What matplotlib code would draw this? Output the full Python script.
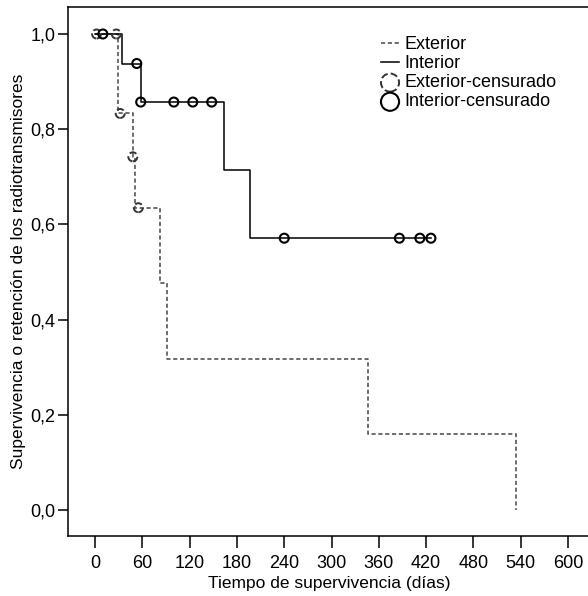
import matplotlib
matplotlib.use("Agg")
import matplotlib.pyplot as plt

plt.rcParams['font.family'] = ['Liberation Sans', 'DejaVu Sans']

# Kaplan-Meier steps (days, survival)
ext_t = [0, 29, 48, 51, 82, 91, 346, 534]
ext_s = [1.0, 0.833, 0.742, 0.635, 0.476, 0.317, 0.159, 0.0]
int_t = [0, 34, 58, 164, 197, 426]
int_s = [1.0, 0.938, 0.857, 0.714, 0.571, 0.571]

# censored observations
ext_cens_t = [2, 27, 32, 48, 55]
ext_cens_s = [1.0, 1.0, 0.833, 0.742, 0.635]
int_cens_t = [10, 53, 58, 100, 124, 148, 240, 386, 412, 426]
int_cens_s = [1.0, 0.938, 0.857, 0.857, 0.857, 0.857, 0.571, 0.571, 0.571, 0.571]

x_ticks = [0, 60, 120, 180, 240, 300, 360, 420, 480, 540, 600]
y_ticks = [0.0, 0.2, 0.4, 0.6, 0.8, 1.0]
y_labels = ['0,0', '0,2', '0,4', '0,6', '0,8', '1,0']

fig = plt.figure(figsize=(5.88, 5.96), dpi=100)
ax = fig.add_axes([68/588, 60/596, 523/588, 529/596])

ext_col = '#555555'
ax.step(ext_t, ext_s, where='post', color=ext_col, lw=1.2, linestyle=(0, (2.5, 1.6)))
ax.step(int_t, int_s, where='post', color='black', lw=1.1)

ax.scatter(ext_cens_t, ext_cens_s, s=42, facecolors='none', edgecolors='#333333',
           linewidths=1.4, linestyles='--', zorder=3)
ax.scatter(int_cens_t, int_cens_s, s=42, facecolors='none', edgecolors='black',
           linewidths=1.5, zorder=4)

# legend proxies (style only)
h1, = ax.plot([], [], color=ext_col, lw=1.2, linestyle=(0, (2.5, 1.6)), label='Exterior')
h2, = ax.plot([], [], color='black', lw=1.1, label='Interior')
h3 = ax.scatter([], [], s=170, facecolors='none', edgecolors='#333333',
                linewidths=1.4, linestyles='--', label='Exterior-censurado')
h4 = ax.scatter([], [], s=170, facecolors='none', edgecolors='black',
                linewidths=1.5, label='Interior-censurado')
ax.legend(handles=[h1, h2, h3, h4], loc='upper left', frameon=False,
          bbox_to_anchor=(381/588, 1 - 36/596), bbox_transform=fig.transFigure,
          fontsize=13, handlelength=1.0, handletextpad=0.3, labelspacing=0.12,
          borderpad=0, borderaxespad=0)

ax.set_xlim(-34.2, 629)
ax.set_ylim(-0.0546, 1.0567)
ax.set_xticks(x_ticks)
ax.set_yticks(y_ticks)
ax.set_yticklabels(y_labels)
ax.tick_params(axis='x', direction='out', length=8.5, width=1.1, labelsize=13, pad=5)
ax.tick_params(axis='y', direction='out', length=7, width=1.1, labelsize=13, pad=2)
for sp in ax.spines.values():
    sp.set_linewidth(1.1)

ax.set_xlabel('Tiempo de supervivencia (días)', fontsize=12.5, labelpad=3)
ax.set_ylabel('Supervivencia o retención de los radiotransmisores', fontsize=12.5, labelpad=3)

fig.savefig('out.png', dpi=100)
